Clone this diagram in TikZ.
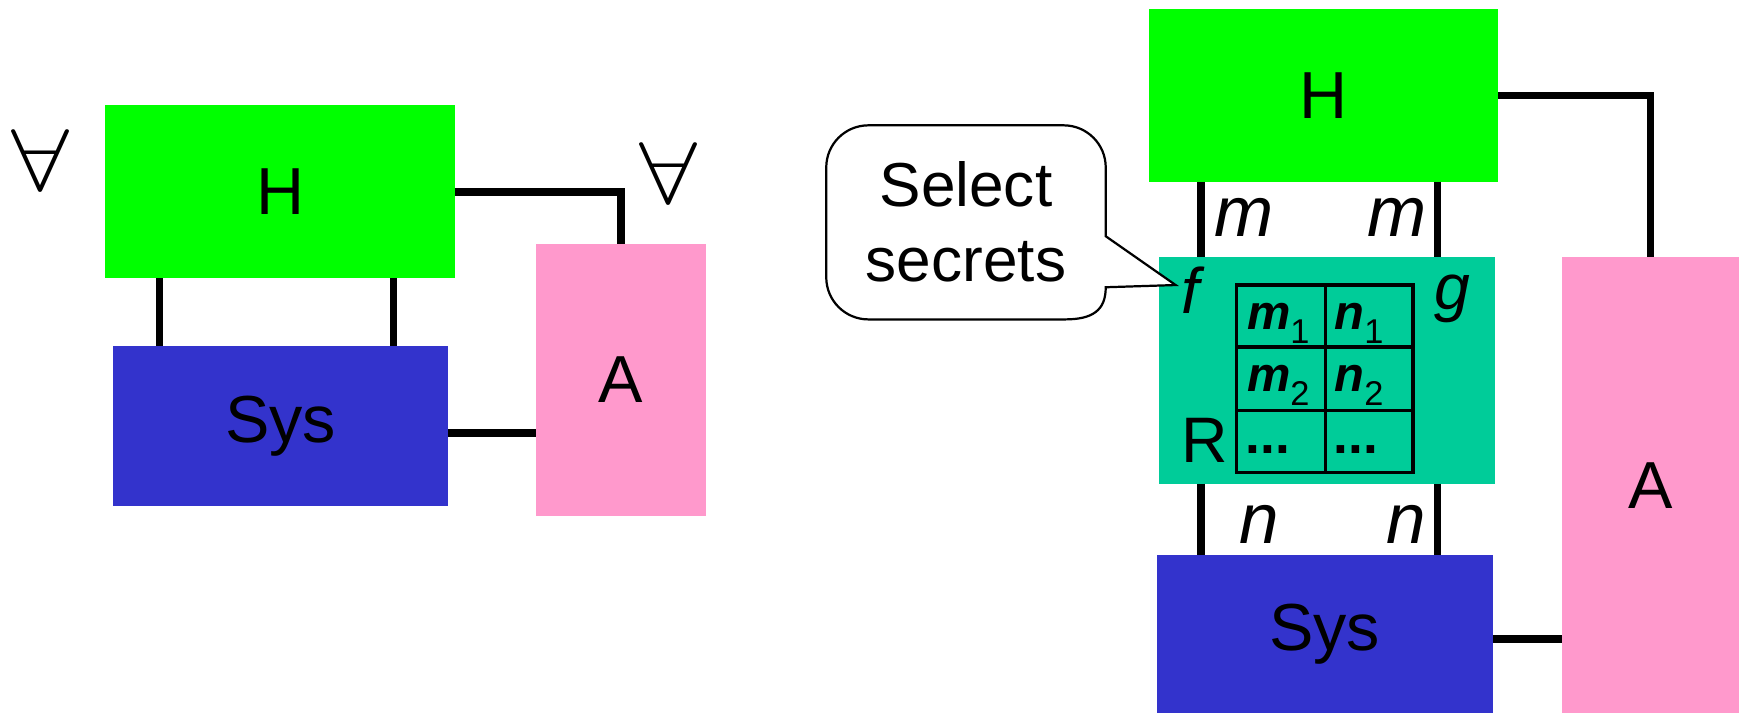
\documentclass[tikz,border=0pt]{standalone}
\usepackage{fontspec}
\setmainfont{Liberation Sans}
\definecolor{hgreen}{RGB}{0,255,0}
\definecolor{sysblue}{RGB}{51,51,204}
\definecolor{advpink}{RGB}{255,153,204}
\definecolor{rteal}{RGB}{0,204,153}
\tikzset{
  blk/.style={inner sep=0pt, outer sep=0pt, font=\fontsize{30}{36}\selectfont},
  wire/.style={line width=3.3pt},
  fatwire/.style={line width=3.6pt},
  chan/.style={inner sep=0pt, anchor=base west, font=\fontsize{32}{38}\selectfont\itshape},
  fun/.style={inner sep=0pt, anchor=base west, font=\fontsize{29}{35}\selectfont},
  cell/.style={inner sep=0pt, anchor=base west, font=\fontsize{22}{26}\selectfont\bfseries\itshape},
  grid/.style={line width=1.5pt},
  bubble/.style={line width=1pt, fill=white},
  quant/.style={inner sep=0pt, xscale=4.7, yscale=3.95},
}
\newcommand{\sub}[1]{\raisebox{-6.3pt}{\fontsize{15.5}{18}\selectfont\upshape\mdseries #1}}
\begin{document}
\begin{tikzpicture}[x=0.5pt,y=-0.5pt]
\useasboundingbox (0,0) rectangle (1568,643);

% ---------- left: quantified system ----------
\node[quant] (all1) at (36.5,144.5) {$\forall$};
\node[quant] (all2) at (603,156) {$\forall$};

\node[blk, fill=hgreen, minimum width=157.5pt, minimum height=78pt] (H1) at (252.5,173) {H};
\node[blk, fill=sysblue, minimum width=151pt, minimum height=72pt] (S1) at (253,384) {Sys};
\node[blk, fill=advpink, minimum width=77pt, minimum height=122.5pt] (A1) at (560,342.5) {A};

\coordinate (l1) at (144,0);
\coordinate (l2) at (355,0);
\coordinate (s1) at (0,390);
\draw[wire] (H1.south -| l1) -- (S1.north -| l1);
\draw[wire] (H1.south -| l2) -- (S1.north -| l2);
\draw[wire] (H1.east) -| (A1.north);
\draw[fatwire] (S1.east |- s1) -- (A1.west |- s1);

% ---------- right: system with relation R ----------
\node[blk, fill=hgreen, minimum width=157.5pt, minimum height=78pt] (H2) at (1193.5,86) {H};
\node[blk, fill=rteal, minimum width=151.5pt, minimum height=102pt] (R2) at (1196.5,334) {};
\node[blk, fill=sysblue, minimum width=151.5pt, minimum height=71.5pt] (S2) at (1194.5,571.5) {Sys};
\node[blk, fill=advpink, minimum width=80pt, minimum height=205.5pt] (A2) at (1488,437.5) {A};

\coordinate (r1) at (1083,0);
\coordinate (r2) at (1296,0);
\coordinate (s2) at (0,576);
\draw[wire] (H2.south -| r1) -- (R2.north -| r1);
\draw[wire] (H2.south -| r2) -- (R2.north -| r2);
\draw[wire] (R2.south -| r1) -- (S2.north -| r1);
\draw[wire] (R2.south -| r2) -- (S2.north -| r2);
\draw[wire] (H2.east) -| (A2.north);
\draw[fatwire] (S2.east |- s2) -- (A2.west |- s2);

\node[chan] (mL) at (1095,213) {m};
\node[chan] (mR) at (1233,213) {m};
\node[chan] (nL) at (1117,490) {n};
\node[chan] (nR) at (1250,490) {n};

\node[fun, font=\fontsize{29}{35}\selectfont\itshape] (f) at (1065,283) {f};
\node[fun, font=\fontsize{29}{35}\selectfont\itshape] (g) at (1293,279) {g};
\node[fun] (R) at (1065,417) {R};

% table of secret pairs
\draw[grid] (1115,257) rectangle (1274,426);
\draw[grid] (1195,257) -- (1195,426);
\draw[grid] (1115,313) -- (1274,313);
\draw[grid] (1115,370) -- (1274,370);
\node[cell] (c11) at (1124,297.5) {m\sub{1}};
\node[cell] (c12) at (1203,297.5) {n\sub{1}};
\node[cell] (c21) at (1124,353) {m\sub{2}};
\node[cell] (c22) at (1203,353) {n\sub{2}};
\node[cell, font=\fontsize{24}{28}\selectfont\bfseries] (c31) at (1123,409) {...};
\node[cell, font=\fontsize{24}{28}\selectfont\bfseries] (c32) at (1202,409) {...};

% callout
\draw[bubble] (997,213) -- (1060,257) -- (997,259)
  .. controls (997,280) and (985,288) .. (960,288)
  -- (783,288) .. controls (762,288) and (745,271) .. (745,250)
  -- (745,151) .. controls (745,130) and (762,113) .. (783,113)
  -- (959,113) .. controls (980,113) and (997,130) .. (997,151)
  -- cycle;
\node[inner sep=0pt, align=center, font=\fontsize{28}{34}\selectfont] (note) at (871,200) {Select\\secrets};
\end{tikzpicture}
\end{document}
